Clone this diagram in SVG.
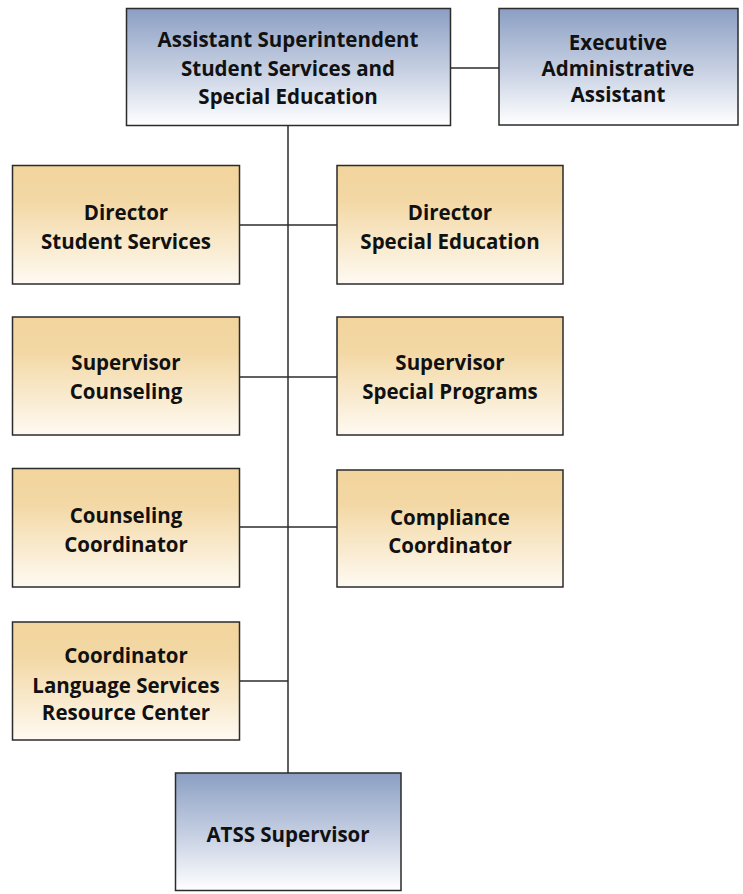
<svg xmlns="http://www.w3.org/2000/svg" width="743" height="894" viewBox="0 0 743 894">
<defs>
<linearGradient id="blue" x1="0" y1="0" x2="0" y2="1">
<stop offset="0" stop-color="#8b9fc3"/>
<stop offset="0.55" stop-color="#c9d2e4"/>
<stop offset="1" stop-color="#ffffff"/>
</linearGradient>
<linearGradient id="gold" x1="0" y1="0" x2="0" y2="1">
<stop offset="0" stop-color="#f2d49c"/>
<stop offset="0.3" stop-color="#f3d8a5"/>
<stop offset="1" stop-color="#fefaf2"/>
</linearGradient>
</defs>
<style>
.box{stroke:#2b2b2b;stroke-width:1.5}
.b{fill:url(#blue)}
.g{fill:url(#gold)}
text{font-family:"Open Sans","Noto Sans","DejaVu Sans",sans-serif;font-weight:700;font-size:20.5px;fill:#111;text-anchor:middle}
.c{stroke:#2b2b2b;stroke-width:1.5;fill:none}
</style>
<g id="connectors">
<line class="c" x1="288" y1="126" x2="288" y2="773"/>
<line class="c" x1="451" y1="68" x2="499" y2="68"/>
<line class="c" x1="240" y1="225" x2="337" y2="225"/>
<line class="c" x1="240" y1="377" x2="337" y2="377"/>
<line class="c" x1="240" y1="527" x2="337" y2="527"/>
<line class="c" x1="240" y1="681" x2="288" y2="681"/>
</g>
<g id="asst-super">
<rect class="box b" x="126.5" y="8.5" width="324" height="117"/>
<text x="288" y="47">Assistant Superintendent</text>
<text x="288" y="76">Student Services and</text>
<text x="288" y="104">Special Education</text>
</g>
<g id="exec-admin">
<rect class="box b" x="499" y="8.5" width="239" height="116.5"/>
<text x="618" y="50">Executive</text>
<text x="618" y="76">Administrative</text>
<text x="618" y="102">Assistant</text>
</g>
<g id="dir-student">
<rect class="box g" x="12.5" y="165.5" width="227" height="118.5"/>
<text x="126" y="220">Director</text>
<text x="126" y="249">Student Services</text>
</g>
<g id="dir-sped">
<rect class="box g" x="337" y="165.5" width="226" height="118.5"/>
<text x="450" y="220">Director</text>
<text x="450" y="249">Special Education</text>
</g>
<g id="sup-counseling">
<rect class="box g" x="12.5" y="317" width="227" height="118"/>
<text x="126" y="370">Supervisor</text>
<text x="126" y="399">Counseling</text>
</g>
<g id="sup-programs">
<rect class="box g" x="337" y="317" width="226" height="118"/>
<text x="450" y="370">Supervisor</text>
<text x="450" y="399">Special Programs</text>
</g>
<g id="coord-counseling">
<rect class="box g" x="12.5" y="468.5" width="227" height="118.5"/>
<text x="126" y="523">Counseling</text>
<text x="126" y="552">Coordinator</text>
</g>
<g id="coord-compliance">
<rect class="box g" x="337" y="470" width="226" height="117"/>
<text x="450" y="525">Compliance</text>
<text x="450" y="553">Coordinator</text>
</g>
<g id="coord-language">
<rect class="box g" x="12.5" y="622" width="227" height="118"/>
<text x="126" y="663">Coordinator</text>
<text x="126" y="693">Language Services</text>
<text x="126" y="720">Resource Center</text>
</g>
<g id="atss">
<rect class="box b" x="175.5" y="773" width="225.5" height="117.5"/>
<text x="288" y="842">ATSS Supervisor</text>
</g>
</svg>
